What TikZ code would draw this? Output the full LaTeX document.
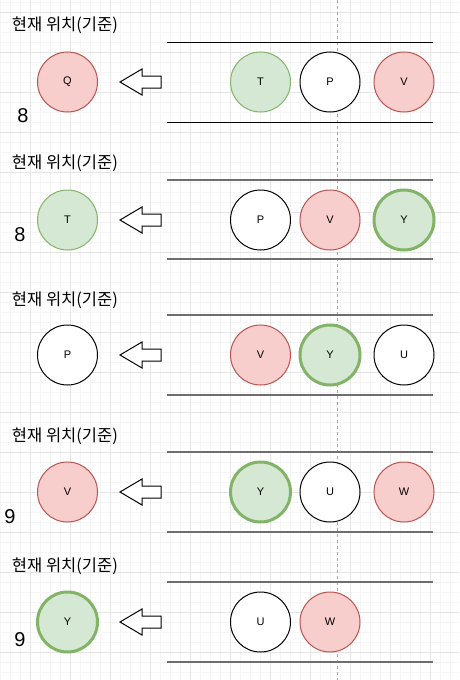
\documentclass[tikz,border=0pt]{standalone}
\usepackage{fontspec}
\setmainfont{Liberation Sans}
\newfontfamily\kofont{Noto Sans CJK KR}
\definecolor{gfill}{HTML}{D5E8D4}
\definecolor{gline}{HTML}{82B366}
\definecolor{rfill}{HTML}{F8CECC}
\definecolor{rline}{HTML}{B85450}
\definecolor{railgray}{HTML}{6E6E6E}
\definecolor{minorgrid}{HTML}{F5F5F5}
\definecolor{majorgrid}{HTML}{E6E6E6}

\begin{document}
\begin{tikzpicture}[x=1pt,y=-1pt,inner sep=0pt,outer sep=0pt,
ball/.style={draw,circle,minimum size=60,line width=1pt,font=\fontsize{11}{13}\selectfont},
gball/.style={ball,fill=gfill,draw=gline},
rball/.style={ball,fill=rfill,draw=rline},
wball/.style={ball,fill=white,draw=black},
hball/.style={gball,line width=3pt},
ttl/.style={anchor=west,font=\kofont\fontsize{16.5}{18}\selectfont},
num/.style={font=\fontsize{20}{22}\selectfont},
rail/.style={draw=railgray,line width=1.6pt},
toprail/.style={draw=black,line width=1pt},
blockarrow/.style={draw,fill=white,line width=1pt,line join=miter}]

\useasboundingbox (0,0) rectangle (459,680);
\fill[white] (0,0) rectangle (459,680);
\foreach \x in {0,10,...,450} \draw[minorgrid,line width=0.8pt] (\x,0) -- (\x,680);
\foreach \y in {2,12,...,672} \draw[minorgrid,line width=0.8pt] (0,\y) -- (459,\y);
\foreach \x in {30,70,...,430} \draw[majorgrid,line width=0.8pt] (\x,0) -- (\x,680);
\foreach \y in {12,52,...,652} \draw[majorgrid,line width=0.8pt] (0,\y) -- (459,\y);
\draw[gray!70,line width=0.7pt,dash pattern=on 3pt off 3pt] (337,0) -- (337,680);

% row 1
\draw (12,25) node[ttl] (ttl1) {현재 위치(기준)};
\draw (67.5,82) node[rball] (cur1) {Q};
\draw (23,116) node[num] (num1) {8};
\draw[blockarrow] (120,82) -- ++(22,-13) -- ++(0,7) -- ++(19,0) -- ++(0,12) -- ++(-19,0) -- ++(0,7) -- cycle;
\draw[toprail] (167,42) -- (433,42);
\draw[toprail] (167,122) -- (433,122);
\draw (260.5,82) node[gball] (q1a) {T};
\draw (330,82) node[wball] (q1b) {P};
\draw (404,82) node[rball] (q1c) {V};

% row 2
\draw (12,163) node[ttl] (ttl2) {현재 위치(기준)};
\draw (67.5,220) node[gball] (cur2) {T};
\draw (20,235) node[num] (num2) {8};
\draw[blockarrow] (120,220) -- ++(22,-13) -- ++(0,7) -- ++(19,0) -- ++(0,12) -- ++(-19,0) -- ++(0,7) -- cycle;
\draw[rail] (167,180) -- (433,180);
\draw[rail] (167,259) -- (433,259);
\draw (260.5,220) node[wball] (q2a) {P};
\draw (330,220) node[rball] (q2b) {V};
\draw (404,220) node[hball] (q2c) {Y};

% row 3
\draw (12,300) node[ttl] (ttl3) {현재 위치(기준)};
\draw (67.5,355) node[wball] (cur3) {P};
\draw[blockarrow] (120,355) -- ++(22,-13) -- ++(0,7) -- ++(19,0) -- ++(0,12) -- ++(-19,0) -- ++(0,7) -- cycle;
\draw[rail] (167,315) -- (433,315);
\draw[rail] (167,395) -- (433,395);
\draw (260.5,355) node[rball] (q3a) {V};
\draw (330,355) node[hball] (q3b) {Y};
\draw (404,355) node[wball] (q3c) {U};

% row 4
\draw (12,436) node[ttl] (ttl4) {현재 위치(기준)};
\draw (67.5,492) node[rball] (cur4) {V};
\draw (10,517) node[num] (num4) {9};
\draw[blockarrow] (120,492) -- ++(22,-13) -- ++(0,7) -- ++(19,0) -- ++(0,12) -- ++(-19,0) -- ++(0,7) -- cycle;
\draw[rail] (167,452) -- (433,452);
\draw[rail] (167,532) -- (433,532);
\draw (260.5,492) node[hball] (q4a) {Y};
\draw (330,492) node[wball] (q4b) {U};
\draw (404,492) node[rball] (q4c) {W};

% row 5
\draw (12,566) node[ttl] (ttl5) {현재 위치(기준)};
\draw (67.5,622) node[hball] (cur5) {Y};
\draw (20,640) node[num] (num5) {9};
\draw[blockarrow] (120,622) -- ++(22,-13) -- ++(0,7) -- ++(19,0) -- ++(0,12) -- ++(-19,0) -- ++(0,7) -- cycle;
\draw[rail] (167,582) -- (433,582);
\draw[rail] (167,662) -- (433,662);
\draw (260.5,622) node[wball] (q5a) {U};
\draw (330,622) node[rball] (q5b) {W};
\end{tikzpicture}
\end{document}
